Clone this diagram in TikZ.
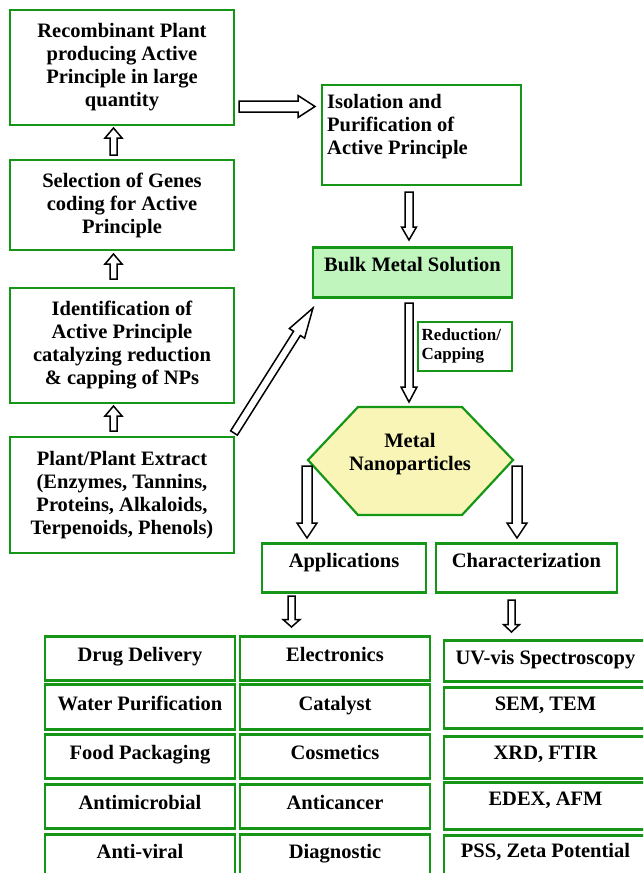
\documentclass[tikz,border=0pt]{standalone}
\usepackage{fontspec}
\setmainfont{Liberation Serif}
\usetikzlibrary{calc}
\definecolor{bgreen}{RGB}{22,150,22}
\definecolor{bulkfill}{RGB}{192,245,190}
\definecolor{hexfill}{RGB}{248,245,183}
\newcommand\blkarr[5]{%
  \path ($(#2)!#5!(#1)$) coordinate (bh);
  \draw[blkarrow] ($(#1)!#3!90:(#2)$) -- ($(bh)!#3!90:(#2)$) -- ($(bh)!#4!90:(#2)$) -- (#2)
    -- ($(bh)!#4!-90:(#2)$) -- ($(bh)!#3!-90:(#2)$) -- ($(#1)!#3!-90:(#2)$) -- cycle;
}
\tikzset{
  mainfont/.style={font=\fontsize{20.5}{23}\selectfont\bfseries},
  gbox/.style={draw=bgreen, line width=2.6pt, inner sep=0pt, mainfont, align=center},
  cell/.style={gbox, anchor=north, text height=25pt, minimum height=0pt},
  blkarrow/.style={draw=black, fill=white, line width=1.5pt, line join=miter},
}
\begin{document}
\begin{tikzpicture}[x=1pt,y=-1pt]
\useasboundingbox (0,0) rectangle (643,873);
\begin{scope}
\clip (0,0) rectangle (643,873);
% left column
\node[gbox, minimum width=224pt, minimum height=115pt] (rec) at (122,67.5)
  {Recombinant Plant\\producing Active\\Principle in large\\quantity};
\node[gbox, minimum width=224pt, minimum height=90pt] (sel) at (122,205)
  {Selection of Genes\\coding for Active\\Principle};
\node[gbox, minimum width=224pt, minimum height=115pt] (ide) at (122,345.5)
  {Identification of\\Active Principle\\catalyzing reduction\\\& capping of NPs};
\node[gbox, minimum width=224pt, minimum height=116pt] (pla) at (122,495)
  {Plant/Plant Extract\\(Enzymes, Tannins,\\Proteins, Alkaloids,\\Terpenoids, Phenols)};
% right column
\node[gbox, minimum width=199pt, minimum height=100pt] (iso) at (421.5,135) {};
\node[mainfont, align=left, anchor=west, inner sep=0pt] (isot) at (327,127)
  {Isolation and\\Purification of\\Active Principle};
\node[cell, fill=bulkfill, minimum width=199pt, text height=24.5pt, text depth=25.5pt] (bulk) at (412.5,246)
  {Bulk Metal Solution};
\node[draw=bgreen, line width=1.2pt, minimum width=94pt, minimum height=49pt] (red) at (465,346.5) {};
\node[font=\fontsize{17}{18.5}\selectfont\bfseries, align=left, anchor=west, inner sep=0pt] (redt) at (421.5,346)
  {Reduction/\\Capping};
% hexagon
\draw[draw=bgreen, line width=2.2pt, fill=hexfill, line join=miter]
  (308,460) coordinate (hexL) -- (358,407) -- (462,407) -- (513,460) coordinate (hexR)
  -- (462,515) -- (358,515) -- cycle;
\node[mainfont, align=center, inner sep=0pt] (hex) at (410,454) {Metal\\Nanoparticles};
\node[cell, minimum width=164pt, text height=24.5pt, text depth=24.5pt] (app) at (344,542) {Applications};
\node[cell, minimum width=181pt, text height=24.5pt, text depth=24.5pt] (cha) at (526.5,542) {Characterization};
% grid column 1
\node[cell, minimum width=190pt, text depth=19pt] (c11) at (140,635) {Drug Delivery};
\node[cell, minimum width=190pt, text height=26pt, text depth=19pt] (c12) at (140,683) {Water Purification};
\node[cell, minimum width=190pt, text depth=19pt] (c13) at (140,733) {Food Packaging};
\node[cell, minimum width=190pt, text depth=19pt] (c14) at (140,783) {Antimicrobial};
\node[cell, minimum width=190pt, text height=24pt, text depth=30pt] (c15) at (140,833) {Anti-viral};
% grid column 2
\node[cell, minimum width=190pt, text depth=19pt] (c21) at (335,635) {Electronics};
\node[cell, minimum width=190pt, text height=26pt, text depth=19pt] (c22) at (335,683) {Catalyst};
\node[cell, minimum width=190pt, text depth=19pt] (c23) at (335,733) {Cosmetics};
\node[cell, minimum width=190pt, text depth=19pt] (c24) at (335,783) {Anticancer};
\node[cell, minimum width=190pt, text height=24pt, text depth=30pt] (c25) at (335,833) {Diagnostic};
% grid column 3
\node[cell, minimum width=203pt, text height=24.5pt, text depth=16.5pt] (c31) at (545.5,639) {UV-vis Spectroscopy};
\node[cell, minimum width=203pt, text height=23.5pt, text depth=17.5pt] (c32) at (545.5,686) {SEM, TEM};
\node[cell, minimum width=203pt, text height=23.5pt, text depth=18.5pt] (c33) at (545.5,735) {XRD, FTIR};
\node[cell, minimum width=203pt, text height=23.5pt, text depth=23.5pt] (c34) at (545.5,781) {EDEX, AFM};
\node[cell, minimum width=203pt, text height=22.5pt, text depth=27.5pt] (c35) at (545.5,834) {PSS, Zeta Potential};
\end{scope}
% arrow end points
\coordinate (a1s) at (239,106.5);  \coordinate (a1e) at (315,106.5);
\coordinate (a2s) at (409,192);    \coordinate (a2e) at (409,240);
\coordinate (a3s) at (409,303);    \coordinate (a3e) at (409,402);
\coordinate (a4s) at (234,433);    \coordinate (a4e) at (313,308);
\coordinate (u1s) at (113.5,155);  \coordinate (u1e) at (113.5,128);
\coordinate (u2s) at (113.5,279);  \coordinate (u2e) at (113.5,254);
\coordinate (u3s) at (113.5,431);  \coordinate (u3e) at (113.5,406);
\coordinate (h1s) at (307,466);    \coordinate (h1e) at (307,538);
\coordinate (h2s) at (517,466);    \coordinate (h2e) at (517,538);
\coordinate (g1s) at (291.5,596);  \coordinate (g1e) at (291.5,627);
\coordinate (g2s) at (511.5,600);  \coordinate (g2e) at (511.5,632);
\blkarr{a1s}{a1e}{5.5pt}{11pt}{17pt}
\blkarr{a2s}{a2e}{4pt}{7.5pt}{13pt}
\blkarr{a3s}{a3e}{4pt}{8pt}{15pt}
\blkarr{a4s}{a4e}{4pt}{9pt}{30pt}
\blkarr{u1s}{u1e}{3.5pt}{8.5pt}{10pt}
\blkarr{u2s}{u2e}{3.5pt}{8.5pt}{10pt}
\blkarr{u3s}{u3e}{3.5pt}{8.5pt}{10pt}
\blkarr{h1s}{h1e}{5pt}{10pt}{15pt}
\blkarr{h2s}{h2e}{5pt}{10pt}{15pt}
\blkarr{g1s}{g1e}{3.5pt}{8.5pt}{7.5pt}
\blkarr{g2s}{g2e}{3.5pt}{8pt}{7.5pt}
\end{tikzpicture}
\end{document}
